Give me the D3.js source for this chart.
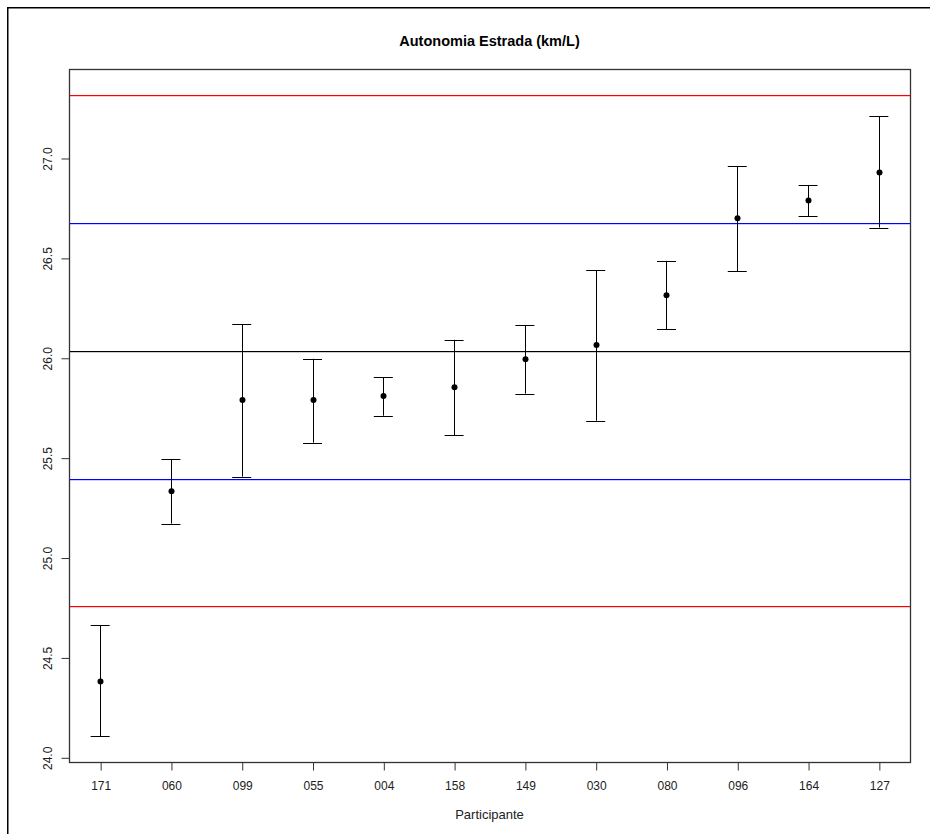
<!DOCTYPE html>
<html>
<head>
<meta charset="utf-8">
<script src="https://cdn.jsdelivr.net/npm/d3@7"></script>
<style>
  body { margin: 0; background: #fff; }
  svg { display: block; font-family: "Liberation Sans", Arial, sans-serif; }
</style>
</head>
<body>
<svg id="chart" width="930" height="834"></svg>
<script>
// participants (x categories) and interval per participant
var participants = ['171', '060', '099', '055', '004', '158', '149', '030', '080', '096', '164', '127'];
var means = [24.38, 25.332, 25.789, 25.789, 25.809, 25.852, 25.992, 26.064, 26.313, 26.698, 26.787, 26.927];
var lower = [24.105, 25.17, 25.405, 25.575, 25.71, 25.613, 25.82, 25.685, 26.142, 26.433, 26.708, 26.652];
var upper = [24.66, 25.492, 26.168, 25.995, 25.903, 26.09, 26.162, 26.438, 26.485, 26.958, 26.865, 27.208];

// horizontal reference lines
var centerLine = 26.035;
var blueLimits = [25.393, 26.677];
var redLimits = [24.757, 27.317];

var yTicks = [24.0, 24.5, 25.0, 25.5, 26.0, 26.5, 27.0];

var plot = {left: 69, right: 910, top: 69, bottom: 762};

var svg = d3.select('#chart');

// outer frame (top and left edges visible)
svg.append('rect').attr('x', 7).attr('y', 7).attr('width', 923).attr('height', 1.5).attr('fill', '#000');
svg.append('rect').attr('x', 7).attr('y', 7).attr('width', 1.5).attr('height', 827).attr('fill', '#000');

// y range like R: data range extended by 4%
var allVals = lower.concat(upper, redLimits);
var yLo = d3.min(allVals), yHi = d3.max(allVals);
var yPad = (yHi - yLo) * 0.04;

var x = d3.scalePoint()
    .domain(participants)
    .range([plot.left, plot.right])
    .padding(0.44);

var y = d3.scaleLinear()
    .domain([yLo - yPad, yHi + yPad])
    .range([plot.bottom, plot.top]);

// reference lines, drawn as thin rects
function hline(v, colour) {
    svg.append('rect')
        .attr('x', plot.left)
        .attr('y', Math.round(y(v)))
        .attr('width', plot.right - plot.left)
        .attr('height', 1.2)
        .style('fill', colour);
}
hline(redLimits[1], 'rgb(255,0,0)');
hline(blueLimits[1], 'rgb(0,0,255)');
hline(centerLine, 'rgb(0,0,0)');
hline(blueLimits[0], 'rgb(0,0,255)');
hline(redLimits[0], 'rgb(255,0,0)');

// error bars
var rows = participants.map(function(p, i) {
    return {p: p, m: means[i], lo: lower[i], hi: upper[i]};
});
var bars = svg.append('g').attr('class', 'bars');
var capW = 9.5;

bars.selectAll('line.stem')
    .data(rows)
    .join('line')
    .attr('class', 'stem')
    .attr('x1', function(d) { return Math.round(x(d.p)) + 0.5; })
    .attr('x2', function(d) { return Math.round(x(d.p)) + 0.5; })
    .attr('y1', function(d) { return y(d.hi); })
    .attr('y2', function(d) { return y(d.lo); })
    .attr('stroke', '#000');

bars.selectAll('line.capTop')
    .data(rows)
    .join('line')
    .attr('class', 'capTop')
    .attr('x1', function(d) { return x(d.p) - capW; })
    .attr('x2', function(d) { return x(d.p) + capW; })
    .attr('y1', function(d) { return Math.round(y(d.hi)) + 0.5; })
    .attr('y2', function(d) { return Math.round(y(d.hi)) + 0.5; })
    .attr('stroke', '#000');

bars.selectAll('line.capBot')
    .data(rows)
    .join('line')
    .attr('class', 'capBot')
    .attr('x1', function(d) { return x(d.p) - capW; })
    .attr('x2', function(d) { return x(d.p) + capW; })
    .attr('y1', function(d) { return Math.round(y(d.lo)) + 0.5; })
    .attr('y2', function(d) { return Math.round(y(d.lo)) + 0.5; })
    .attr('stroke', '#000');

bars.selectAll('circle')
    .data(rows)
    .join('circle')
    .attr('cx', function(d) { return Math.round(x(d.p)) + 0.5; })
    .attr('cy', function(d) { return y(d.m); })
    .attr('r', 3)
    .attr('fill', '#000');

// plot box
svg.append('rect')
    .attr('x', plot.left + 0.5)
    .attr('y', plot.top + 0.5)
    .attr('width', plot.right - plot.left)
    .attr('height', plot.bottom - plot.top)
    .attr('fill', 'none')
    .attr('stroke', '#333')
    .attr('stroke-width', 1.3);

// axes
var xAxis = svg.append('g')
    .attr('transform', 'translate(0.5,' + (plot.bottom + 0.5) + ')')
    .call(d3.axisBottom(x).tickSize(8).tickPadding(11));
xAxis.select('.domain').remove();
xAxis.selectAll('.tick line').attr('stroke', '#333');
xAxis.selectAll('.tick text')
    .style('font-size', '12px')
    .style('font-family', '"Liberation Sans", Arial, sans-serif')
    .attr('fill', '#222');

var yAxis = svg.append('g')
    .attr('transform', 'translate(' + (plot.left + 0.5) + ',0.5)')
    .call(d3.axisLeft(y).tickValues(yTicks).tickFormat(d3.format('.1f')).tickSize(8));
yAxis.select('.domain').remove();
yAxis.selectAll('.tick line').attr('stroke', '#333');
yAxis.selectAll('.tick text')
    .attr('x', 0)
    .attr('dy', 0)
    .attr('transform', 'translate(-18,0) rotate(-90)')
    .attr('text-anchor', 'middle')
    .style('font-size', '12px')
    .style('font-family', '"Liberation Sans", Arial, sans-serif')
    .attr('fill', '#222');

// title and axis label
svg.append('text')
    .attr('x', (plot.left + plot.right) / 2)
    .attr('y', 46)
    .attr('text-anchor', 'middle')
    .style('font-size', '14.5px')
    .style('font-weight', 'bold')
    .text('Autonomia Estrada (km/L)');

svg.append('text')
    .attr('x', (plot.left + plot.right) / 2)
    .attr('y', 819)
    .attr('text-anchor', 'middle')
    .style('font-size', '13px')
    .attr('fill', '#222')
    .text('Participante');
</script>
</body>
</html>
